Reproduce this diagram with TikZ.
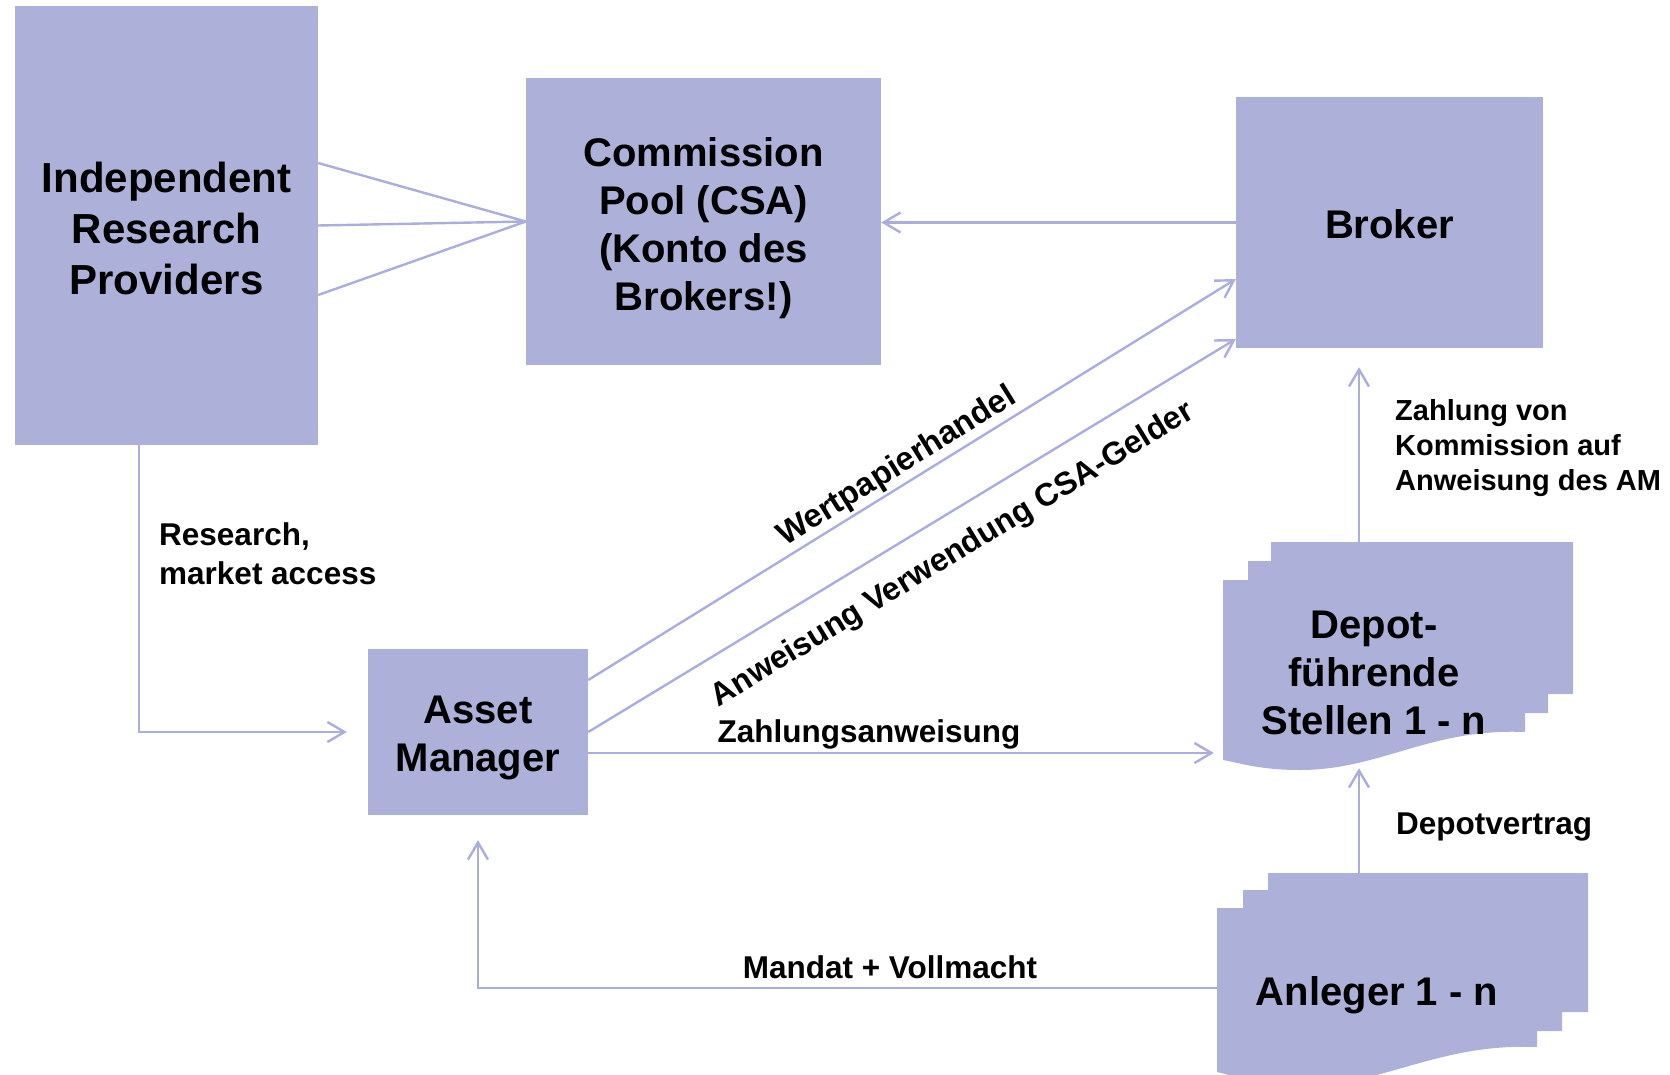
\documentclass[tikz,border=0pt]{standalone}
\usepackage{fontspec}
\setmainfont{Liberation Sans}
\usetikzlibrary{arrows.meta,calc}
\definecolor{boxfill}{RGB}{173,176,217}
\definecolor{linkcol}{RGB}{170,173,222}
\begin{document}
\begin{tikzpicture}[x=1pt,y=-1pt,
  box/.style={fill=boxfill, draw=none, inner sep=0pt},
  ghost/.style={draw=none, fill=none, inner sep=0pt},
  boxtext/.style={inner sep=0pt, align=center, font=\fontsize{40}{48}\selectfont\bfseries},
  link/.style={draw=linkcol, line width=2.4pt},
  arr/.style={link, -{Straight Barb[length=17pt,width=20pt]}},
  lbl/.style={inner sep=0pt, align=left, font=\fontsize{31.5}{37}\selectfont\bfseries}]
\useasboundingbox (0,0) rectangle (1670,1075);

% main boxes and their captions
\node[box, minimum width=303pt, minimum height=439pt] (irp) at (166.5,225.5) {};
\node[boxtext, font=\fontsize{42}{51}\selectfont\bfseries] (irptext) at (166.5,228)
  {Independent\\Research\\Providers};
\node[box, minimum width=355pt, minimum height=287pt] (csa) at (703.5,221.5) {};
\node[boxtext] (csatext) at (703.5,228) {Commission\\Pool (CSA)\\(Konto des\\Brokers!)};
\node[box, minimum width=307pt, minimum height=251pt] (broker) at (1389.5,222.5) {};
\node[boxtext] (brokertext) at (1389.5,224) {Broker};
\node[box, minimum width=220pt, minimum height=166pt] (am) at (478,732) {};
\node[boxtext] (amtext) at (478,738) {Asset\\Manager};

% stacked document shapes
\fill[boxfill] (1223,580) -- (1248,580) -- (1248,561) -- (1271,561) -- (1271,542)
  -- (1573,542) -- (1573,694) -- (1548,694) -- (1548,713) -- (1525,713) -- (1525,732)
  .. controls (1430,728) and (1380,770) .. (1300,770)
  .. controls (1260,770) and (1240,763) .. (1223,760) -- cycle;
\node[ghost, minimum width=350pt, minimum height=226pt] (depot) at (1398,655) {};
\node[boxtext] (depottext) at (1374,673) {Depot-\\führende\\Stellen 1 - n};

\fill[boxfill] (1217,908) -- (1243,908) -- (1243,890) -- (1268,890) -- (1268,873)
  -- (1588,873) -- (1588,1012) -- (1562,1012) -- (1562,1031) -- (1537,1031) -- (1537,1047)
  .. controls (1437,1043) and (1384,1086) .. (1300,1086)
  .. controls (1257,1086) and (1236,1076) .. (1217,1072) -- cycle;
\node[ghost, minimum width=371pt, minimum height=202pt] (anleger) at (1402.5,974) {};
\node[boxtext] (anlegertext) at (1377,995) {Anleger 1 - n};

% connectors
\draw[link] ([yshift=62.5pt]irp.east) -- (csa.west);
\draw[link] (irp.east) -- (csa.west);
\draw[link] ([yshift=-69.5pt]irp.east) -- (csa.west);
\draw[arr] (broker.west) -- (broker.west -| csa.east);
\draw[arr] ([yshift=52pt]am.east) -- ([yshift=-56.5pt]broker.west);
\draw[arr] (am.east) -- ([yshift=-116.5pt]broker.west);
\draw[arr, shorten >=9pt] ([yshift=-21pt]am.east) coordinate (zs) -- (zs -| depot.west);
\draw[arr, shorten >=21pt] ([xshift=-27.5pt]irp.south) |- (am.west);
\draw[arr, shorten >=19pt] ([xshift=-39pt]depot.north) -- ([xshift=-30.5pt]broker.south);
\draw[arr] ([xshift=-43.5pt]anleger.north) -- ([xshift=-39pt]depot.south);
\draw[arr, shorten >=25pt] ([yshift=-14pt]anleger.west) -| (am.south);

% connector labels
\node[lbl, anchor=west, font=\fontsize{31.5}{39}\selectfont\bfseries] (lresearch) at (159,554)
  {Research,\\market access};
\node[lbl, rotate=31.9, font=\fontsize{32.5}{37}\selectfont\bfseries] (lwp) at (897,467) {Wertpapierhandel};
\node[lbl, rotate=31.3, font=\fontsize{32}{37}\selectfont\bfseries] (lanw) at (953,555) {Anweisung Verwendung CSA-Gelder};
\node[lbl] (lzahl) at (869,734) {Zahlungsanweisung};
\node[lbl, anchor=west, font=\fontsize{29}{35}\selectfont\bfseries] (lkomm) at (1395,448)
  {Zahlung von\\Kommission auf\\Anweisung des AM};
\node[lbl, anchor=west] (ldepot) at (1396,827) {Depotvertrag};
\node[lbl] (lmandat) at (890,967) {Mandat + Vollmacht};
\end{tikzpicture}
\end{document}
